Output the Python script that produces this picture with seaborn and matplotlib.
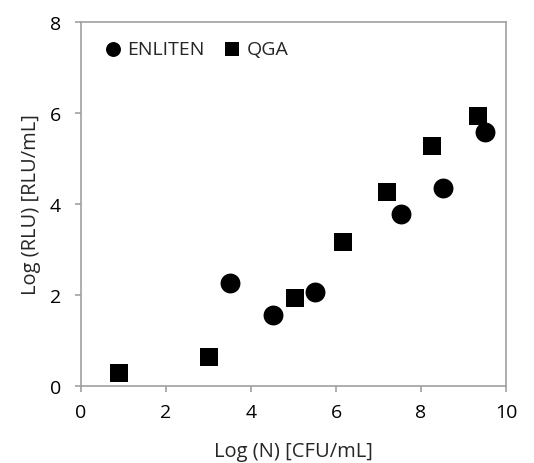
import seaborn as sns
import matplotlib.pyplot as plt
import pandas as pd

# 读取的数据点
enliten_x = [3.51, 4.51, 5.51, 7.52, 8.51, 9.51]
enliten_y = [2.26, 1.55, 2.05, 3.77, 4.35, 5.58]
qga_x = [0.90, 3.01, 5.04, 6.16, 7.21, 8.27, 9.33]
qga_y = [0.29, 0.62, 1.93, 3.16, 4.25, 5.26, 5.92]

enliten = pd.DataFrame({"x": enliten_x, "y": enliten_y})
qga = pd.DataFrame({"x": qga_x, "y": qga_y})

sns.set_theme(style="white")
plt.rcParams["font.family"] = ["Open Sans", "DejaVu Sans"]

fig = plt.figure(figsize=(5.34, 4.64), dpi=100)
ax = fig.add_axes([81 / 534, 1 - 386.7 / 464, (506 - 81) / 534, (386.7 - 22.7) / 464])

sns.scatterplot(data=enliten, x="x", y="y", marker="o", color="black",
                s=205, linewidth=0, label="ENLITEN", ax=ax)
sns.scatterplot(data=qga, x="x", y="y", marker="s", color="black",
                s=180, linewidth=0, label="QGA", ax=ax)

ax.set_xlim(0, 10)
ax.set_ylim(0, 8)
ax.set_xticks(range(0, 11, 2))
ax.set_yticks(range(0, 9, 2))
ax.set_xlabel("Log (N) [CFU/mL]", fontsize=14.5, labelpad=14)
ax.set_ylabel("Log (RLU) [RLU/mL]", fontsize=14.5, labelpad=6)

for sp in ax.spines.values():
    sp.set_color("#a0a0a0")
    sp.set_linewidth(1.2)
ax.tick_params(axis="both", which="major", labelsize=14, colors="#a0a0a0",
               labelcolor="black", length=4.5, width=1.2, bottom=True, left=True,
               direction="out")
ax.tick_params(axis="x", pad=8)
ax.tick_params(axis="y", pad=10)

leg = ax.legend(ncol=2, loc="center left", frameon=False, fontsize=14,
                handlelength=0.8, handletextpad=0.35, columnspacing=1.0,
                markerscale=0.75, borderpad=0, borderaxespad=0,
                bbox_to_anchor=(0.056, 0.925))

fig.savefig("out.png", dpi=100)
